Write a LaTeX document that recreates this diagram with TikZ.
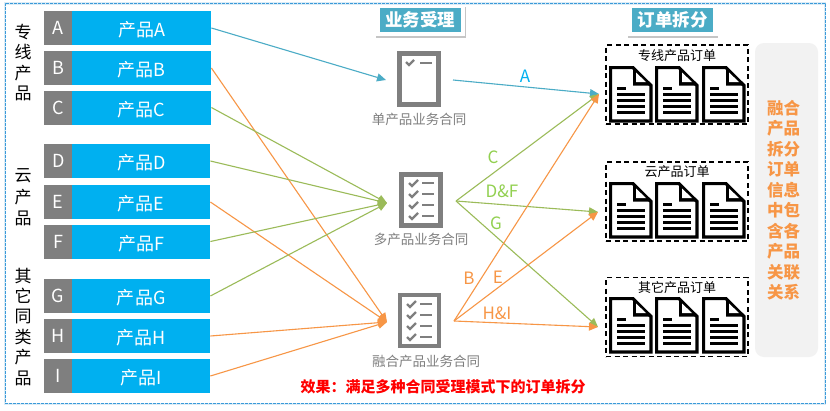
\documentclass[tikz,border=0pt]{standalone}
\usepackage{fontspec}
\setmainfont{Noto Sans CJK SC}
\usetikzlibrary{arrows.meta,positioning,shadows}
\definecolor{prodblue}{HTML}{00B0F0}
\definecolor{lblue}{HTML}{4BACC6}
\definecolor{lgreen}{HTML}{9BBB59}
\definecolor{lorange}{HTML}{F79646}
\definecolor{tgreen}{HTML}{92D050}
\definecolor{ticon}{HTML}{7F7F7F}
\definecolor{framec}{HTML}{3A9AD9}
\definecolor{haloc}{HTML}{DCECF6}
\newcommand{\fs}[1]{\fontsize{#1}{#1}\selectfont}
\tikzset{
  x=1pt,y=-1pt,
  prodbox/.style={draw=none,fill=prodblue,text=white,minimum height=34pt,minimum width=139pt,anchor=west,inner sep=0pt,font=\fs{18},text height=18pt,text depth=1pt},
  tagbox/.style={draw=none,fill=ticon,text=white,minimum height=34pt,minimum width=28pt,anchor=west,inner sep=0pt,font=\fs{18}},
  vlabel/.style={font=\fs{17},text=black,inner sep=0pt,align=center},
  conn/.style={line width=1.1pt,-{Triangle[length=9pt,width=8pt]}},
  cblue/.style={conn,draw=lblue},
  cgreen/.style={conn,draw=lgreen},
  corange/.style={conn,draw=lorange},
  lab/.style={font=\fs{17},inner sep=0pt},
  grp/.style={draw=black,line width=1.3pt,dash pattern=on 5pt off 3.5pt,minimum width=142pt,minimum height=79pt,inner sep=0pt},
  grplab/.style={font=\fs{13},inner sep=0pt,text=black},
  ctlab/.style={font=\fs{13.5},inner sep=0pt,text=ticon},
  head/.style={fill=lblue,text=white,draw=white,line width=0pt,minimum width=82pt,minimum height=25pt,inner sep=0pt,font=\fs{17.5}\bfseries},
  headback/.style={fill=white,draw=none,minimum width=90pt,minimum height=31pt,inner sep=0pt,drop shadow={shadow xshift=0.8pt,shadow yshift=-1.5pt,fill=black!45}},
  ctbox/.style={draw=ticon,line width=4.6pt,fill=white,minimum width=39pt,minimum height=51pt,inner sep=0pt},
  paneltxt/.style={text=lorange,font=\fs{16.5}\bfseries,inner sep=0pt},
}
% order document icon: top-left at (#1,#2)
\newcommand{\orderdoc}[2]{%
  \begin{scope}[shift={(#1,#2)}]
    \draw[black,line width=3.2pt,fill=white,line join=miter] (1.6,1.6)--(24,1.6)--(42,19.5)--(42,55)--(1.6,55)--cycle;
    \fill[black] (24,1.6)--(24,19.5)--(42,19.5)--cycle;
    \fill[white] (27,6.5)--(27,16)--(37,16)--cycle;
    \fill[black] (8,21)rectangle(17,23.5);
    \foreach \yy in {27,33,39,45}{\fill[black] (8,\yy)rectangle(36,\yy+2.8);}
  \end{scope}}
\newcommand{\checkrow}[2]{%
  \draw[ticon,line width=2.4pt] (#1,#2)--++(3,3)--++(6,-6);
  \draw[ticon,line width=2.6pt] (#1+13,#2)--++(12,0);}
\begin{document}
\begin{tikzpicture}
\useasboundingbox (0,0) rectangle (830,410);
\fill[white] (0,0) rectangle (830,410);
\draw[haloc,line width=2.4pt] (5,3.6) rectangle (825,404);
\node[draw=framec,line width=0.8pt,dash pattern=on 2.6pt off 1.4pt,minimum width=820pt,minimum height=400pt,inner sep=0pt] (frame) at (415,203) {};

% product rows
\foreach \nm/\yy/\ww in {A/28/139,B/68/139,C/107.5/139,D/161/138,E/202/138,F/241.5/138,G/296/138,H/336/138,I/376/138}{
  \node[prodbox,minimum width=\ww pt] (p\nm) at (72,\yy) {产品\nm};
  \node[tagbox] (t\nm) at (44,\yy) {\nm};
}
\node[vlabel] (v11) at (23,32) {专}; \node[vlabel] (v12) at (23,52) {线};
\node[vlabel] (v13) at (23,73) {产}; \node[vlabel] (v14) at (23,93) {品};
\node[vlabel] (v21) at (23,176) {云}; \node[vlabel] (v22) at (23,197) {产}; \node[vlabel] (v23) at (23,218) {品};
\node[vlabel] (v31) at (23,276) {其}; \node[vlabel] (v32) at (23,296) {它}; \node[vlabel] (v33) at (23,316) {同};
\node[vlabel] (v34) at (23,337) {类}; \node[vlabel] (v35) at (23,357) {产}; \node[vlabel] (v36) at (23,378) {品};

% headers
\node[headback] (hb1) at (420,20.5) {};
\node[head] (h1) at (420,20) {业务受理};
\node[headback] (hb2) at (672.5,20.5) {};
\node[head] (h2) at (672.5,20) {订单拆分};

% contract icons
\node[ctbox] (c1) at (419,79) {};
\node[ctbox] (c2) at (421,200) {};
\node[ctbox] (c3) at (419.5,320.5) {};
\draw[ticon,line width=2.4pt] (406,62)--(409,65)--(414,60);
\draw[ticon,line width=2.6pt] (420,63)--(432,63);
\foreach \yy in {183,194,205,216}{\checkrow{409}{\yy}}
\foreach \yy in {304,315,326,337}{\checkrow{407}{\yy}}
\node[ctlab] (cl1) at (419,119) {单产品业务合同};
\node[ctlab] (cl2) at (421,239.5) {多产品业务合同};
\node[ctlab] (cl3) at (426,361) {融合产品业务合同};

% order groups
\node[grp] (g1) at (677,84.5) {};
\node[grp] (g2) at (677,201.5) {};
\node[grp] (g3) at (677,317) {};
\node[grplab] (gl1) at (677,56) {专线产品订单};
\node[grplab] (gl2) at (677,172) {云产品订单};
\node[grplab] (gl3) at (677,288) {其它产品订单};
\foreach \yy in {66,182,297}{
  \orderdoc{609}{\yy}\orderdoc{655}{\yy}\orderdoc{702}{\yy}
}

% right panel
\node[fill=black!5,rounded corners=9pt,minimum width=63pt,minimum height=314pt,inner sep=0pt] (panel) at (786.5,200) {};
\foreach \txt [count=\i from 0] in {融合,产品,拆分,订单,信息,中包,含各,产品,关联,关系}{
  \node[paneltxt] (pt\i) at (783.5,108+20.5*\i) {\txt};
}

% connector anchors
\coordinate (inA) at (386,80);
\coordinate (inM) at (387,203);
\coordinate (inF) at (387,322);
\coordinate (o1) at (599,94);
\coordinate (o2) at (598,212);
\coordinate (o3) at (598,327);
\coordinate (s1) at (453,80);
\coordinate (s2) at (456,201);
\coordinate (s3) at (454,321);

\draw[cblue] (pA.east) -- (inA);
\draw[corange] (pB.east) -- (inF);
\draw[cgreen] (pC.east) -- (inM);
\draw[cgreen] (pD.east) -- (inM);
\draw[corange] (pE.east) -- (inF);
\draw[cgreen] (pF.east) -- (inM);
\draw[cgreen] (pG.east) -- (inM);
\draw[corange] (pH.east) -- (inF);
\draw[corange] (pI.east) -- (inF);

\draw[cblue] (s1) -- (o1);
\draw[cgreen] (s2) -- (o1);
\draw[cgreen] (s2) -- (o2);
\draw[cgreen] (s2) -- (o3);
\draw[corange] (s3) -- (o1);
\draw[corange] (s3) -- (o2);
\draw[corange] (s3) -- (o3);

% connector labels
\node[lab,text=prodblue] (lA) at (525,76) {A};
\node[lab,text=tgreen] (lC) at (493,157) {C};
\node[lab,text=tgreen] (lD) at (502,191) {D\&F};
\node[lab,text=tgreen] (lG) at (496,223) {G};
\node[lab,text=lorange] (lB) at (469,278) {B};
\node[lab,text=lorange] (lE) at (498,277) {E};
\node[lab,text=lorange] (lH) at (497,313) {H\&I};

\node[text=red,font=\fs{15}\bfseries,inner sep=0pt] (eff) at (443,387) {效果：满足多种合同受理模式下的订单拆分};
\end{tikzpicture}
\end{document}
